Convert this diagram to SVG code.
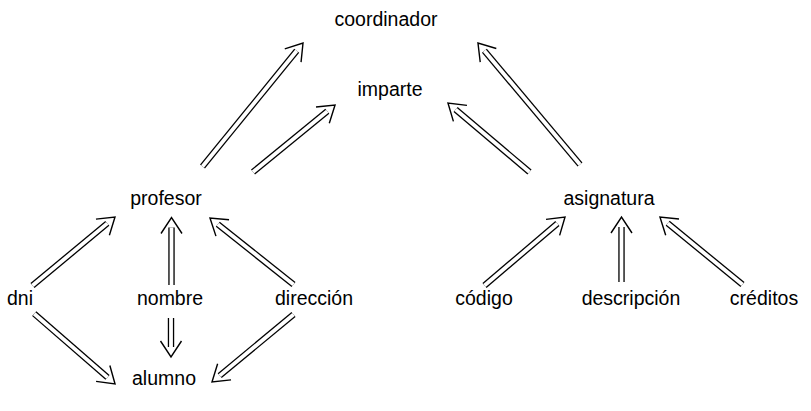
<svg xmlns="http://www.w3.org/2000/svg" width="811" height="411" viewBox="0 0 811 411">
<style>
text{font-family:"Liberation Sans",Arial,sans-serif;font-size:19.5px;fill:#000;text-anchor:middle}
.o{fill:none;stroke:#000;stroke-width:6.4}
.i{fill:none;stroke:#fff;stroke-width:3.8;marker-end:url(#head)}
</style>
<defs>
<marker id="head" markerUnits="userSpaceOnUse" orient="auto" markerWidth="40" markerHeight="40" refX="0" refY="0" overflow="visible">
<path d="M-6,-10.5 L10,0 L-6,10.5" fill="none" stroke="#000" stroke-width="1.4"/>
</marker>
</defs>
<rect width="811" height="411" fill="#fff"/>
<g id="connectors">
<g id="e1"><path class="o" d="M202.5,166.5 L296.7,50.8"/><path class="i" d="M202.5,166.5 L296.7,50.8"/></g>
<g id="e2"><path class="o" d="M253,172 L327.3,111.3"/><path class="i" d="M253,172 L327.3,111.3"/></g>
<g id="e3"><path class="o" d="M529.5,172 L455.6,109.5"/><path class="i" d="M529.5,172 L455.6,109.5"/></g>
<g id="e4"><path class="o" d="M580,164.5 L484.4,50.7"/><path class="i" d="M580,164.5 L484.4,50.7"/></g>
<g id="e5"><path class="o" d="M32.5,285.5 L107.3,223.4"/><path class="i" d="M32.5,285.5 L107.3,223.4"/></g>
<g id="e6"><path class="o" d="M34.2,313.7 L107.5,377.4"/><path class="i" d="M34.2,313.7 L107.5,377.4"/></g>
<g id="e7"><path class="o" d="M171.5,285 L171.5,227.5"/><path class="i" d="M171.5,285 L171.5,227.5"/></g>
<g id="e8"><path class="o" d="M171,318 L171,347"/><path class="i" d="M171,318 L171,347"/></g>
<g id="e9"><path class="o" d="M293.5,284.5 L217.8,224.2"/><path class="i" d="M293.5,284.5 L217.8,224.2"/></g>
<g id="e10"><path class="o" d="M293.5,314.5 L219.7,375.6"/><path class="i" d="M293.5,314.5 L219.7,375.6"/></g>
<g id="e11"><path class="o" d="M484.5,285.5 L557.4,223.5"/><path class="i" d="M484.5,285.5 L557.4,223.5"/></g>
<g id="e12"><path class="o" d="M621.5,282 L621.5,227"/><path class="i" d="M621.5,282 L621.5,227"/></g>
<g id="e13"><path class="o" d="M742.5,284.5 L667.7,223.3"/><path class="i" d="M742.5,284.5 L667.7,223.3"/></g>
</g>
<g id="coordinador"><text x="386" y="26">coordinador</text></g>
<g id="imparte"><text x="390" y="96">imparte</text></g>
<g id="profesor"><text x="166" y="205">profesor</text></g>
<g id="asignatura"><text x="609" y="205">asignatura</text></g>
<g id="dni"><text x="20" y="305">dni</text></g>
<g id="nombre"><text x="170" y="305">nombre</text></g>
<g id="direccion"><text x="314" y="305">dirección</text></g>
<g id="codigo"><text x="484" y="305">código</text></g>
<g id="descripcion"><text x="631" y="305">descripción</text></g>
<g id="creditos"><text x="764" y="305">créditos</text></g>
<g id="alumno"><text x="164" y="385">alumno</text></g>
</svg>
